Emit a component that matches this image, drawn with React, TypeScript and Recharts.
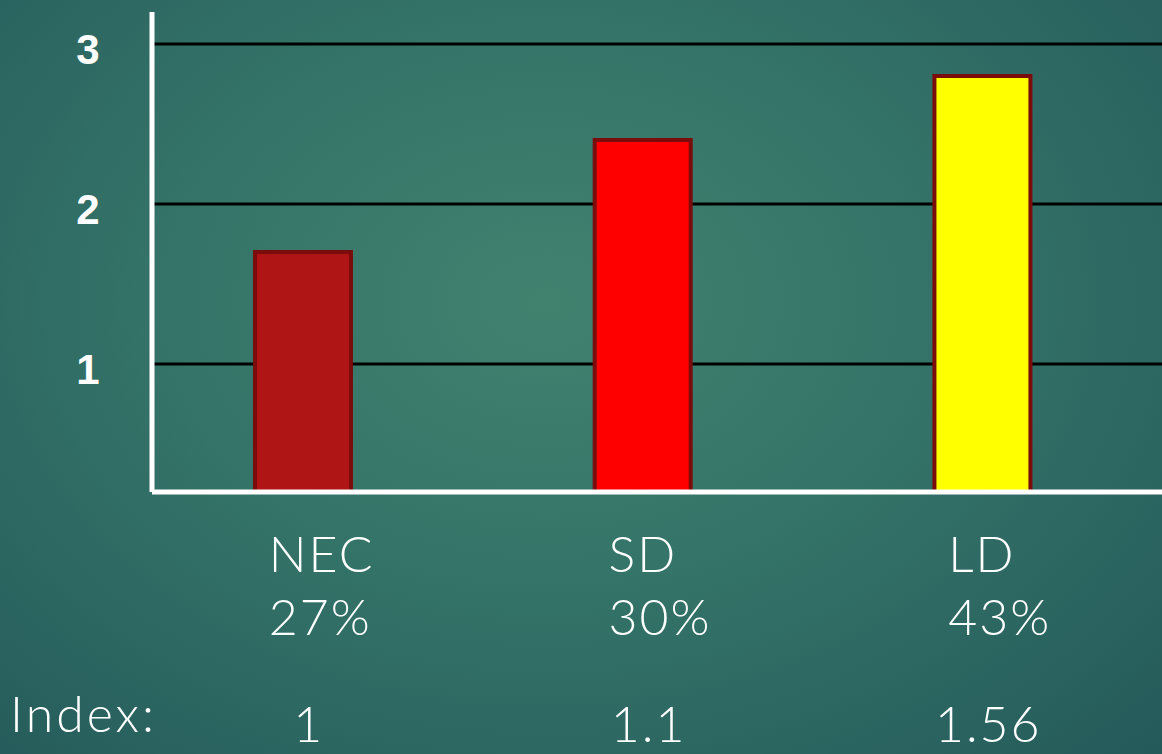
import { BarChart, Bar, XAxis, YAxis, CartesianGrid, Cell } from "recharts";

const categories = ["NEC", "SD", "LD"];
const shares = ["27%", "30%", "43%"];
const indexValues = ["1", "1.1", "1.56"];
const heights = [1.7, 2.4, 2.8];
const barColors = ["#b01515", "#ff0000", "#ffff00"];
const yTicks = [1, 2, 3];

const data = categories.map((name, i) => ({
  pos: i,
  name,
  share: shares[i],
  index: indexValues[i],
  value: heights[i],
}));

const lightFont = "'Lato', 'DejaVu Sans', sans-serif";

function CategoryTick(props: any) {
  const { x, y, payload } = props;
  const d = data[payload.value];
  if (!d) return null;
  return (
    <g fill="#ffffff" fontFamily={lightFont} fontWeight={300}>
      <text x={x - 34} y={y + 80} fontSize={50} letterSpacing={2} textAnchor="start">
        {d.name}
      </text>
      <text x={x - 34} y={y + 143} fontSize={50} letterSpacing={2} textAnchor="start">
        {d.share}
      </text>
      <text x={x + 6} y={y + 250} fontSize={50} letterSpacing={2} textAnchor="middle">
        {d.index}
      </text>
    </g>
  );
}

function ValueTick(props: any) {
  const { y, payload } = props;
  return (
    <text
      x={88}
      y={y + 20}
      textAnchor="middle"
      fill="#ffffff"
      fontFamily="'Liberation Sans', Arial, sans-serif"
      fontWeight={700}
      fontSize={42}
    >
      {payload.value}
    </text>
  );
}

export default function App() {
  return (
    <div
      style={{
        position: "absolute",
        left: 0,
        top: 0,
        width: 1162,
        height: 754,
        overflow: "hidden",
        background:
          "radial-gradient(ellipse 75% 85% at 47% 40%, #41826f 0%, #347368 45%, #245a5a 100%)",
      }}
    >
      <BarChart
        width={1162}
        height={754}
        data={data}
        margin={{ top: 12, right: 0, left: 0, bottom: 0 }}
      >
        <CartesianGrid
          vertical={false}
          horizontalValues={yTicks}
          stroke="#000000"
          strokeWidth={3}
        />
        <XAxis
          type="number"
          dataKey="pos"
          domain={[-0.444, 2.529]}
          ticks={[0, 1, 2]}
          allowDataOverflow
          height={262}
          tickLine={false}
          tickSize={0}
          tickMargin={0}
          axisLine={{ stroke: "#ffffff", strokeWidth: 5 }}
          tick={<CategoryTick />}
          interval={0}
        />
        <YAxis
          type="number"
          domain={[0.2, 3.2]}
          ticks={yTicks}
          allowDataOverflow
          width={152}
          tickLine={false}
          axisLine={{ stroke: "#ffffff", strokeWidth: 5 }}
          tick={<ValueTick />}
          interval={0}
        />
        <Bar
          dataKey="value"
          barSize={96}
          stroke="#7a0c0c"
          strokeWidth={4}
          isAnimationActive={false}
        >
          {data.map((d, i) => (
            <Cell key={d.name} fill={barColors[i]} />
          ))}
        </Bar>
      </BarChart>
      <div
        style={{
          position: "absolute",
          left: 10,
          top: 683,
          color: "#ffffff",
          fontFamily: lightFont,
          fontWeight: 300,
          fontSize: 50,
          letterSpacing: 3,
          lineHeight: "60px",
        }}
      >
        Index:
      </div>
    </div>
  );
}
